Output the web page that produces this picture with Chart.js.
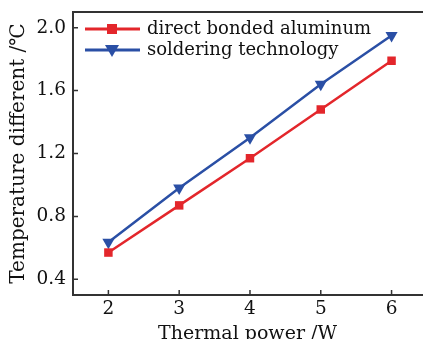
<!DOCTYPE html>
<html>
<head>
<meta charset="utf-8">
<script src="https://cdn.jsdelivr.net/npm/chart.js@4.4.1/dist/chart.umd.min.js"></script>
<style>
  html, body { margin: 0; padding: 0; background: #fff; }
  #wrap { width: 423px; height: 339px; }
</style>
</head>
<body>
<div id="wrap"><canvas id="chart" width="423" height="339"></canvas></div>
<script>
const power = [2, 3, 4, 5, 6];
const dbaTemp = [0.57, 0.87, 1.17, 1.48, 1.79];
const solderTemp = [0.635, 0.98, 1.30, 1.64, 1.95];
const xTicks = [2, 3, 4, 5, 6];
const yTicks = [0.4, 0.8, 1.2, 1.6, 2.0];

const serif = '"DejaVu Serif", "Liberation Serif", serif';
const axisColor = '#333';

// inward tick marks + frame, and legend in the upper left corner
const framePlugin = {
    id: 'frame',
    afterDraw(chart) {
        const ctx = chart.ctx;
        const area = chart.chartArea;
        const xs = chart.scales.x;
        const ys = chart.scales.y;
        ctx.save();
        ctx.strokeStyle = axisColor;
        ctx.lineWidth = 2;
        ctx.beginPath();
        ctx.moveTo(area.right + 2, area.top);
        ctx.lineTo(area.left, area.top);
        ctx.lineTo(area.left, area.bottom);
        ctx.lineTo(area.right + 2, area.bottom);
        ctx.stroke();
        ctx.lineWidth = 1.5;
        ctx.beginPath();
        xTicks.forEach(v => {
            const px = xs.getPixelForValue(v);
            ctx.moveTo(px, area.bottom);
            ctx.lineTo(px, area.bottom - 5);
        });
        yTicks.forEach(v => {
            const py = ys.getPixelForValue(v);
            ctx.moveTo(area.left, py);
            ctx.lineTo(area.left + 5, py);
        });
        ctx.stroke();

        // legend
        ctx.font = '18px ' + serif;
        ctx.textBaseline = 'middle';
        chart.data.datasets.forEach((ds, i) => {
            const y = area.top + 17 + i * 21;
            ctx.strokeStyle = ds.borderColor;
            ctx.lineWidth = 3;
            ctx.beginPath();
            ctx.moveTo(area.left + 12, y);
            ctx.lineTo(area.left + 67, y);
            ctx.stroke();
            ctx.fillStyle = ds.borderColor;
            const mx = area.left + 39;
            if (ds.pointStyle === 'rect') {
                ctx.fillRect(mx - 5, y - 5, 10, 10);
            } else {
                ctx.beginPath();
                ctx.moveTo(mx - 7, y - 5);
                ctx.lineTo(mx + 7, y - 5);
                ctx.lineTo(mx, y + 7);
                ctx.closePath();
                ctx.fill();
            }
            ctx.fillStyle = '#111';
            ctx.fillText(ds.label, area.left + 74, y);
        });
        ctx.restore();
    }
};

new Chart(document.getElementById('chart'), {
    type: 'line',
    data: {
        datasets: [{
            label: 'direct bonded aluminum',
            data: power.map((p, i) => ({ x: p, y: dbaTemp[i] })),
            borderColor: '#e3262b',
            backgroundColor: '#e3262b',
            borderWidth: 2.5,
            pointStyle: 'rect',
            pointRadius: 6,
            pointBorderWidth: 0
        }, {
            label: 'soldering technology',
            data: power.map((p, i) => ({ x: p, y: solderTemp[i] })),
            borderColor: '#2a4fa5',
            backgroundColor: '#2a4fa5',
            borderWidth: 2.5,
            pointStyle: 'triangle',
            rotation: 180,
            pointRadius: 7,
            pointBorderWidth: 0
        }]
    },
    options: {
        responsive: false,
        animation: false,
        layout: { autoPadding: false, padding: { top: 12, right: 1, left: 0, bottom: 0 } },
        plugins: { legend: { display: false }, tooltip: { enabled: false } },
        scales: {
            x: {
                type: 'linear',
                min: 1.5,
                max: 6.43,
                afterBuildTicks: axis => { axis.ticks = xTicks.map(v => ({ value: v })); },
                afterFit: scale => {
                    scale.height = 44;
                    scale.paddingLeft = 0;
                    scale.paddingRight = 0;
                },
                grid: { display: false, drawTicks: false },
                border: { display: false },
                ticks: { color: '#111', font: { family: serif, size: 18.5 }, padding: 3, maxRotation: 0 },
                title: {
                    display: true,
                    text: 'Thermal power /W',
                    color: '#111',
                    font: { family: serif, size: 19 },
                    padding: { top: 0, bottom: -6 }
                }
            },
            y: {
                min: 0.3,
                max: 2.1,
                afterBuildTicks: axis => { axis.ticks = yTicks.map(v => ({ value: v })); },
                afterFit: scale => {
                    scale.width = 73;
                    scale.paddingTop = 0;
                    scale.paddingBottom = 0;
                },
                grid: { display: false, drawTicks: false },
                border: { display: false },
                ticks: {
                    color: '#111',
                    font: { family: serif, size: 18.5 },
                    padding: 7,
                    callback: v => v.toFixed(1)
                },
                title: {
                    display: true,
                    text: 'Temperature different /℃',
                    color: '#111',
                    font: { family: serif, size: 20 },
                    padding: { top: 7, bottom: 0 }
                }
            }
        }
    },
    plugins: [framePlugin]
});
</script>
</body>
</html>
